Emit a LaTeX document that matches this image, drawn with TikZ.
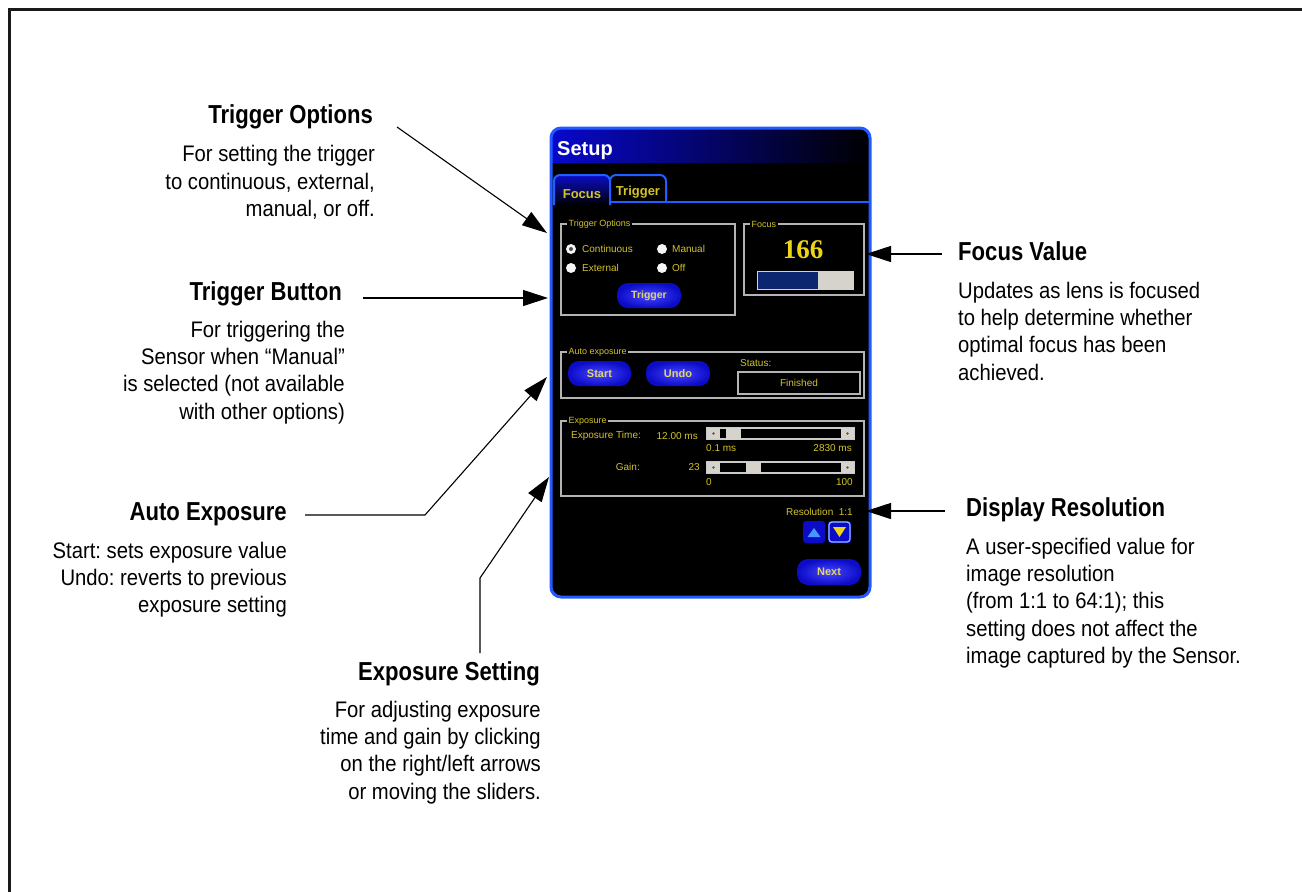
\documentclass[tikz,border=0pt]{standalone}
\usepackage{fontspec}
\setmainfont{Liberation Sans}
\newfontfamily\bodyfont{Liberation Sans}[FakeStretch=0.9]
\newfontfamily\headfont{Liberation Sans}[FakeStretch=0.85]
\newfontfamily\numfont{Liberation Serif}
\newfontfamily\uifont{Liberation Sans}
\usetikzlibrary{arrows.meta}
\frenchspacing

\definecolor{uiborder}{RGB}{35,90,255}
\definecolor{tabblue}{RGB}{30,95,255}
\definecolor{btnhi}{RGB}{70,70,255}
\definecolor{btnlo}{RGB}{12,12,200}
\definecolor{uiyellow}{RGB}{212,196,40}
\definecolor{numyellow}{RGB}{238,212,25}
\definecolor{boxgray}{RGB}{180,180,180}
\definecolor{bardark}{RGB}{12,38,112}
\definecolor{barlight}{RGB}{214,211,204}
\definecolor{uparrow}{RGB}{70,150,255}
\definecolor{framegray}{RGB}{25,25,25}

\tikzset{
  headtext/.style={font=\headfont\bfseries\fontsize{26}{30}\selectfont, inner sep=0pt},
  % multi-line bodies are anchored on the baseline of their last line
  bodytext/.style={font=\bodyfont\fontsize{22.5}{27.4}\selectfont, inner sep=0pt},
  callout/.style={line width=1.1pt, -{Triangle[length=25pt,width=16pt]}},
  uitext/.style={font=\uifont\fontsize{10}{12}\selectfont, text=uiyellow, inner sep=0pt},
  grouplabel/.style={font=\uifont\fontsize{9}{11}\selectfont, text=uiyellow, fill=black,
                     inner xsep=1.5pt, inner ysep=0pt, anchor=west},
  groupbox/.style={draw=boxgray, line width=2pt},
  uibutton/.style={shade, inner color=btnhi, outer color=btnlo, rounded corners=11pt,
                   text=uiyellow!70!white, font=\uifont\bfseries\fontsize{10.5}{12}\selectfont,
                   inner sep=0pt},
  radio/.style={fill=white!92!gray},
}

\begin{document}
\begin{tikzpicture}[x=1pt, y=-1pt]
\useasboundingbox (0,0) rectangle (1302,892);

% page frame (top and left edges)
\draw[framegray, line width=3pt] (9.5,892) -- (9.5,9.5) -- (1302,9.5);

% ---------- the Setup window ----------
\fill[black, rounded corners=10pt] (551,128) rectangle (870,597);
\begin{scope}
  \clip[rounded corners=10pt] (551,128) rectangle (870,597);
  \shade[left color={rgb,255:red,8;green,8;blue,205}, middle color={rgb,255:red,4;green,4;blue,150},
         right color=black] (551,128) rectangle (870,162);
\end{scope}
\node[anchor=base west, text=white, font=\uifont\bfseries\fontsize{20}{24}\selectfont, inner sep=0pt]
  (setup) at (557,155) {Setup};

% tabs
\shade[top color=btnlo, bottom color=black, rounded corners=6pt]
  (554,205) -- (554,175) -- (610,175) -- (610,205) -- cycle;
\draw[tabblue, line width=2pt, rounded corners=6pt] (554,205) -- (554,175) -- (610,175) -- (610,205);
\draw[tabblue, line width=2pt, rounded corners=6pt, fill=black] (610,202) -- (610,175) -- (666,175) -- (666,202);
\draw[tabblue, line width=2pt] (610,202) -- (870,202);
\node[anchor=base, text=uiyellow, font=\uifont\bfseries\fontsize{13}{15}\selectfont, inner sep=0pt]
  (tabfocus) at (582,198) {Focus};
\node[anchor=base, text=uiyellow, font=\uifont\bfseries\fontsize{13}{15}\selectfont, inner sep=0pt]
  (tabtrig) at (638,195) {Trigger};

% Trigger Options group
\draw[groupbox] (561,224) rectangle (735,315);
\node[grouplabel] (gtrig) at (567,224) {Trigger Options};
\fill[radio] (571,249) circle (5);
\fill[gray!60!black] (571,249) circle (2);
\fill[radio] (571,268) circle (5);
\fill[radio] (662,249) circle (5);
\fill[radio] (662,268) circle (5);
\node[uitext, anchor=west] (rcont) at (582,249) {Continuous};
\node[uitext, anchor=west] (rext) at (582,268) {External};
\node[uitext, anchor=west] (rman) at (672,249) {Manual};
\node[uitext, anchor=west] (roff) at (672,268) {Off};
\node[uibutton, minimum width=64pt, minimum height=25pt] (trigbtn) at (649,295.5) {Trigger};

% Focus group
\draw[groupbox] (744,224) rectangle (864,295);
\node[grouplabel] (gfocus) at (750,224) {Focus};
\node[font=\numfont\bfseries\fontsize{27}{30}\selectfont, text=numyellow, inner sep=0pt]
  (focusnum) at (803,250) {166};
\draw[barlight, line width=1.5pt] (757.5,271.5) rectangle (853.5,289.5);
\fill[bardark] (758,272) rectangle (818,289);
\fill[barlight] (818,272) rectangle (853,289);

% Auto exposure group
\draw[groupbox] (561,352) rectangle (864,398);
\node[grouplabel] (gauto) at (567,352) {Auto exposure};
\node[uibutton, minimum width=63pt, minimum height=25pt, font=\uifont\bfseries\fontsize{11}{13}\selectfont]
  (startbtn) at (599.5,373.5) {Start};
\node[uibutton, minimum width=64pt, minimum height=25pt, font=\uifont\bfseries\fontsize{11}{13}\selectfont]
  (undobtn) at (678,373.5) {Undo};
\node[uitext, anchor=west] (status) at (740,363) {Status:};
\draw[groupbox] (738,372) rectangle (860,394);
\node[uitext] (finished) at (799,383) {Finished};

% Exposure group
\draw[groupbox] (561,421) rectangle (864,496);
\node[grouplabel] (gexpo) at (567,421) {Exposure};
\node[uitext, anchor=west] (etime) at (571,436) {Exposure Time:};
\node[uitext, anchor=east] (etimev) at (698,436) {12.00 ms};
\node[uitext, anchor=west] (emin) at (706,448) {0.1 ms};
\node[uitext, anchor=east] (emax) at (852,448) {2830 ms};
\node[uitext, anchor=east] (gain) at (640,467) {Gain:};
\node[uitext, anchor=east] (gainv) at (700,467) {23};
\node[uitext, anchor=west] (gmin) at (706,482) {0};
\node[uitext, anchor=east] (gmax) at (853,482) {100};
\foreach \ty/\tx in {428/726, 462/746}{
  \draw[boxgray!70!white, line width=1.2pt, fill=black] (707,\ty) rectangle (854,\ty+11);
  \fill[barlight] (707,\ty) rectangle (720,\ty+11);
  \fill[barlight] (841,\ty) rectangle (854,\ty+11);
  \fill[gray!70!black] (713.5,\ty+5.5) circle (1.3);
  \fill[gray!70!black] (847.5,\ty+5.5) circle (1.3);
  \fill[barlight] (\tx,\ty-0.5) rectangle (\tx+15,\ty+11.5);
}

% resolution controls
\node[uitext, anchor=east] (resol) at (853,512) {Resolution\ \ 1:1};
\fill[btnlo, rounded corners=3pt] (803,521) rectangle (825,543);
\fill[uparrow] (807.5,537) -- (820.5,537) -- (814,528) -- cycle;
\draw[btnlo, fill=btnlo, rounded corners=3pt] (828,521) rectangle (851,543);
\draw[uparrow!60!white, line width=1.2pt, rounded corners=3pt] (829,522) rectangle (850,542);
\fill[numyellow] (833,527) -- (846,527) -- (839.5,537) -- cycle;
\node[uibutton, minimum width=64pt, minimum height=26pt, font=\uifont\bfseries\fontsize{11}{13}\selectfont]
  (nextbtn) at (829,572) {Next};

% window border
\draw[uiborder, line width=3pt, rounded corners=10pt] (551,128) rectangle (870,597);

% ---------- callouts ----------
\node[headtext, anchor=base east] (hto) at (373,123) {Trigger Options};
\node[bodytext, anchor=base east, align=right] (bto) at (375,216.5)
  {For setting the trigger\\to continuous, external,\\manual, or off.};

\node[headtext, anchor=base east] (htb) at (342,300) {Trigger Button};
\node[bodytext, anchor=base east, align=right] (btb) at (345,419.2)
  {For triggering the\\Sensor when “Manual”\\is selected (not available\\with other options)};

\node[headtext, anchor=base east] (hae) at (287,520) {Auto Exposure};
\node[bodytext, anchor=base east, align=right] (bae) at (287,612.8)
  {Start: sets exposure value\\Undo: reverts to previous\\exposure setting};

\node[headtext, anchor=base east] (hes) at (540,680) {Exposure Setting};
\node[bodytext, anchor=base east, align=right] (bes) at (541,799.2)
  {For adjusting exposure\\time and gain by clicking\\on the right/left arrows\\or moving the sliders.};

\node[headtext, anchor=base west] (hfv) at (958,260) {Focus Value};
\node[bodytext, anchor=base west, align=left] (bfv) at (958,380.2)
  {Updates as lens is focused\\to help determine whether\\optimal focus has been\\achieved.};

\node[headtext, anchor=base west] (hdr) at (966,516) {Display Resolution};
\node[bodytext, anchor=base west, align=left] (bdr) at (966,663.6)
  {A user-specified value for\\image resolution\\(from 1:1 to 64:1); this\\setting does not affect the\\image captured by the Sensor.};

% connector end points
\coordinate (toA) at (397,127);   \coordinate (toZ) at (547,233);
\coordinate (tbA) at (363,298);   \coordinate (tbZ) at (548,298);
\coordinate (aeA) at (305,515);   \coordinate (aeK) at (425,515);   \coordinate (aeZ) at (547,377);
\coordinate (esA) at (480,653);   \coordinate (esK) at (480,578);   \coordinate (esZ) at (549,477);
\coordinate (fvA) at (942,254);   \coordinate (fvZ) at (866,254);
\coordinate (drA) at (945,511);   \coordinate (drZ) at (866,511);

\draw[callout] (toA) -- (toZ);
\draw[callout] (tbA) -- (tbZ);
\draw[callout] (aeA) -- (aeK) -- (aeZ);
\draw[callout] (esA) -- (esK) -- (esZ);
\draw[callout] (fvA) -- (fvZ);
\draw[callout] (drA) -- (drZ);
\end{tikzpicture}
\end{document}
